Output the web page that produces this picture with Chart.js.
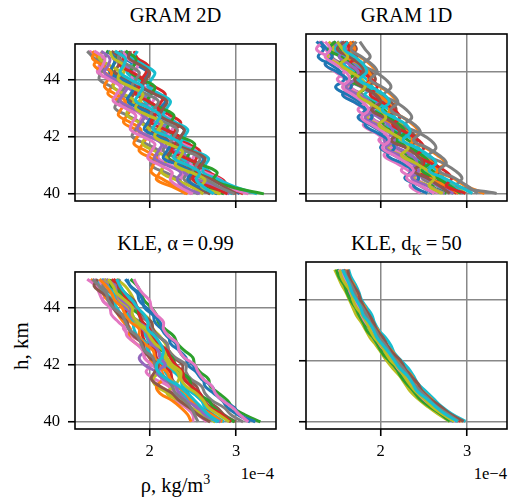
<!DOCTYPE html>
<html>
<head>
<meta charset="utf-8">
<script src="https://cdn.jsdelivr.net/npm/chart.js@4.4.1/dist/chart.umd.min.js"></script>
<style>
  body { margin: 0; width: 511px; height: 498px; background: #fff; position: relative; overflow: hidden; font-family: "Liberation Serif", "Times New Roman", serif; color: #000; }
  canvas { position: absolute; }
  .title { position: absolute; width: 201px; text-align: center; font-size: 20.5px; line-height: 20.5px; white-space: nowrap; }
  .sub { font-size: 14px; position: relative; top: 5px; }
  .offset { position: absolute; width: 201px; text-align: right; font-size: 16.6px; line-height: 16.6px; }
  #ylabel { position: absolute; left: 21px; top: 346px; font-size: 21px; line-height: 21px; white-space: nowrap; transform: translate(-50%, -50%) rotate(-90deg); }
  #xlabel { position: absolute; left: 75px; top: 475px; width: 201px; text-align: center; font-size: 20.5px; line-height: 20.5px; white-space: nowrap; }
  #xlabel sup { font-size: 14px; vertical-align: baseline; position: relative; top: -8px; }
</style>
</head>
<body>
<div class="title" style="left:75px; top:4.5px">GRAM 2D</div>
<div class="title" style="left:306px; top:4.5px">GRAM 1D</div>
<div class="title" style="left:75px; top:233px">KLE, α&thinsp;=&thinsp;0.99</div>
<div class="title" style="left:306px; top:233px">KLE, d<span class="sub">K</span>&thinsp;=&thinsp;50</div>
<div id="ylabel">h, km</div>
<div id="xlabel">ρ, kg/m<sup>3</sup></div>
<div class="offset" style="left:73px; top:466px">1e−4</div>
<div class="offset" style="left:306px; top:466px">1e−4</div>

<script>
//****DATA****//

var heights = [45, 44.75, 44.5, 44.25, 44, 43.75, 43.5, 43.25, 43, 42.75, 42.5, 42.25, 42, 41.75, 41.5, 41.25, 41, 40.75, 40.5, 40.25, 40];
var xTicks = [2, 3];
var yTicks = [40, 42, 44];

// density samples (x 1e-4 kg/m3), one row per realisation, from 45 km down to 40 km
var gram2d = [
  [1.30,1.44,1.42,1.40,1.54,1.68,1.65,1.62,1.77,1.91,1.88,1.86,2.01,2.15,2.13,2.10,2.24,2.38,2.36,2.34,2.48],
  [1.52,1.48,1.44,1.60,1.76,1.72,1.68,1.84,2.00,1.96,1.92,2.08,2.24,2.20,2.16,2.32,2.48,2.44,2.40,2.56,2.70],
  [1.58,1.62,1.74,1.70,1.68,1.80,1.94,1.90,1.86,2.00,2.14,2.12,2.08,2.22,2.38,2.34,2.30,2.46,2.62,2.60,2.80],
  [1.66,1.80,1.78,1.74,1.86,2.02,1.98,1.94,2.08,2.24,2.20,2.16,2.30,2.46,2.42,2.38,2.54,2.70,2.66,2.74,2.96],
  [1.76,1.72,1.86,1.98,1.94,1.90,2.06,2.18,2.12,2.10,2.26,2.40,2.36,2.32,2.48,2.62,2.58,2.56,2.74,2.92,3.04],
  [1.34,1.40,1.36,1.48,1.60,1.56,1.52,1.66,1.78,1.74,1.70,1.84,1.96,1.92,1.88,2.02,2.16,2.12,2.08,2.26,2.44],
  [1.50,1.62,1.58,1.56,1.70,1.84,1.80,1.76,1.92,2.06,2.02,1.98,2.14,2.30,2.26,2.22,2.38,2.54,2.50,2.66,2.86],
  [1.82,1.86,1.98,1.96,1.92,2.06,2.18,2.14,2.10,2.24,2.36,2.30,2.28,2.44,2.58,2.54,2.52,2.68,2.84,2.92,3.08],
  [1.62,1.58,1.70,1.82,1.78,1.74,1.88,2.00,1.96,1.92,2.08,2.22,2.18,2.14,2.30,2.46,2.42,2.40,2.56,2.76,2.92],
  [1.56,1.66,1.64,1.60,1.72,1.86,1.82,1.78,1.92,2.06,2.02,1.98,2.14,2.28,2.24,2.20,2.36,2.50,2.46,2.52,2.70],
  [1.70,1.74,1.86,1.82,1.80,1.94,2.08,2.04,2.00,2.16,2.30,2.26,2.22,2.38,2.54,2.50,2.48,2.64,2.82,2.90,3.14],
  [1.28,1.36,1.48,1.44,1.42,1.56,1.68,1.64,1.60,1.74,1.88,1.84,1.80,1.96,2.10,2.06,2.02,2.18,2.34,2.40,2.56],
  [1.46,1.42,1.54,1.66,1.62,1.58,1.70,1.82,1.76,1.74,1.88,2.00,1.96,1.92,2.06,2.20,2.16,2.14,2.30,2.48,2.62],
  [1.86,1.82,1.94,2.06,2.02,1.98,2.12,2.24,2.20,2.16,2.30,2.44,2.40,2.36,2.52,2.68,2.64,2.62,2.80,2.98,3.24],
  [1.52,1.60,1.58,1.54,1.68,1.82,1.78,1.74,1.88,2.02,1.98,1.94,2.10,2.24,2.20,2.16,2.34,2.48,2.44,2.56,2.78],
  [1.38,1.34,1.46,1.56,1.52,1.48,1.60,1.72,1.68,1.64,1.78,1.90,1.86,1.82,1.96,2.08,2.04,2.02,2.16,2.30,2.42],
  [1.72,1.84,1.82,1.78,1.92,2.06,2.02,1.98,2.14,2.28,2.24,2.20,2.36,2.52,2.48,2.44,2.62,2.78,2.74,2.94,3.32],
  [1.64,1.70,1.66,1.80,1.92,1.88,1.84,1.98,2.10,2.06,2.02,2.18,2.34,2.30,2.26,2.42,2.58,2.54,2.50,2.70,2.90],
  [1.44,1.54,1.52,1.48,1.60,1.74,1.70,1.66,1.80,1.94,1.90,1.86,2.00,2.14,2.10,2.06,2.20,2.36,2.32,2.40,2.58],
  [1.78,1.76,1.90,2.00,1.96,1.92,2.06,2.20,2.16,2.12,2.26,2.40,2.36,2.32,2.48,2.64,2.60,2.56,2.72,2.86,3.00],
  [1.36,1.48,1.46,1.42,1.54,1.66,1.62,1.58,1.72,1.84,1.80,1.78,1.92,2.06,2.02,1.98,2.12,2.26,2.24,2.34,2.50],
  [1.68,1.64,1.76,1.88,1.84,1.80,1.96,2.10,2.06,2.02,2.18,2.32,2.28,2.24,2.42,2.58,2.54,2.50,2.66,2.80,2.98],
  [1.54,1.58,1.70,1.66,1.64,1.78,1.92,1.88,1.84,1.98,2.14,2.10,2.06,2.22,2.38,2.34,2.30,2.48,2.64,2.60,2.82],
  [1.60,1.72,1.70,1.66,1.78,1.92,1.88,1.84,2.00,2.12,2.08,2.04,2.22,2.36,2.32,2.28,2.44,2.58,2.54,2.62,2.74]
];

var gram1d = [
  [1.28,1.36,1.42,1.36,1.48,1.60,1.66,1.58,1.70,1.82,1.88,1.80,1.94,2.06,2.12,2.04,2.18,2.32,2.40,2.34,2.46],
  [1.44,1.50,1.44,1.56,1.68,1.74,1.66,1.80,1.92,1.98,1.90,2.04,2.18,2.24,2.16,2.32,2.46,2.54,2.48,2.66,2.80],
  [1.62,1.54,1.66,1.78,1.84,1.76,1.90,2.02,2.08,1.98,2.14,2.26,2.32,2.24,2.40,2.54,2.60,2.54,2.72,2.86,2.98],
  [1.50,1.58,1.66,1.58,1.72,1.84,1.90,1.82,1.96,2.10,2.16,2.08,2.24,2.38,2.44,2.36,2.52,2.66,2.72,2.66,2.84],
  [1.26,1.34,1.28,1.42,1.54,1.58,1.48,1.62,1.76,1.82,1.74,1.88,2.02,2.08,2.00,2.16,2.30,2.36,2.28,2.46,2.60],
  [1.70,1.62,1.76,1.88,1.94,1.86,2.00,2.12,2.18,2.10,2.26,2.38,2.44,2.36,2.52,2.66,2.74,2.66,2.84,2.98,3.20],
  [1.46,1.54,1.60,1.52,1.66,1.78,1.84,1.74,1.90,2.04,2.10,2.02,2.18,2.32,2.38,2.28,2.46,2.60,2.68,2.60,2.76],
  [1.58,1.64,1.56,1.70,1.82,1.88,1.80,1.94,1.98,1.88,2.02,2.16,2.22,2.14,2.30,2.44,2.50,2.42,2.58,2.72,2.88],
  [1.52,1.44,1.58,1.70,1.76,1.64,1.78,1.92,1.98,1.86,1.98,2.10,2.14,2.04,2.20,2.36,2.42,2.34,2.52,2.66,2.84],
  [1.66,1.72,1.64,1.76,1.88,1.94,1.84,1.98,2.12,2.18,2.08,2.22,2.36,2.42,2.32,2.48,2.62,2.68,2.60,2.78,2.94],
  [1.34,1.26,1.40,1.52,1.58,1.50,1.64,1.76,1.82,1.74,1.88,2.00,2.06,1.98,2.12,2.26,2.32,2.24,2.40,2.54,2.66],
  [1.76,1.82,1.88,1.80,1.94,2.06,2.12,2.04,2.18,2.30,2.36,2.28,2.44,2.58,2.64,2.56,2.72,2.86,2.94,2.88,3.34],
  [1.40,1.46,1.38,1.52,1.64,1.70,1.60,1.74,1.86,1.92,1.84,1.98,2.12,2.18,2.08,2.24,2.38,2.46,2.38,2.56,2.70],
  [1.56,1.48,1.62,1.74,1.80,1.72,1.86,1.98,2.04,1.96,2.10,2.22,2.28,2.20,2.36,2.50,2.58,2.50,2.68,2.82,2.96],
  [1.30,1.38,1.44,1.36,1.50,1.62,1.66,1.56,1.70,1.84,1.90,1.82,1.96,2.10,2.16,2.08,2.24,2.38,2.44,2.38,2.54],
  [1.64,1.70,1.62,1.76,1.86,1.90,1.82,1.96,2.08,2.12,2.04,2.18,2.32,2.38,2.30,2.46,2.60,2.66,2.58,2.76,2.90],
  [1.48,1.40,1.54,1.66,1.72,1.64,1.80,1.94,2.00,1.92,2.08,2.22,2.28,2.18,2.34,2.48,2.56,2.48,2.66,2.80,2.92],
  [1.60,1.66,1.72,1.64,1.78,1.90,1.96,1.88,2.02,2.16,2.22,2.14,2.30,2.44,2.50,2.42,2.58,2.74,2.82,2.76,2.98],
  [1.54,1.60,1.52,1.64,1.74,1.70,1.60,1.74,1.88,1.92,1.82,1.96,2.10,2.16,2.06,2.22,2.36,2.44,2.36,2.54,2.74],
  [1.58,1.50,1.64,1.76,1.80,1.70,1.80,1.94,2.00,1.90,2.04,2.18,2.22,2.12,2.30,2.42,2.48,2.38,2.54,2.68,2.80],
  [1.36,1.42,1.36,1.48,1.60,1.64,1.56,1.68,1.80,1.86,1.78,1.90,2.04,2.10,2.02,2.16,2.30,2.38,2.30,2.46,2.62],
  [1.72,1.66,1.78,1.90,1.96,1.88,2.02,2.14,2.20,2.12,2.26,2.40,2.46,2.38,2.54,2.68,2.76,2.68,2.86,3.00,3.12],
  [1.50,1.56,1.62,1.54,1.66,1.78,1.82,1.74,1.86,2.00,2.06,1.98,2.12,2.26,2.32,2.24,2.40,2.54,2.62,2.56,2.72],
  [1.62,1.58,1.70,1.80,1.84,1.76,1.90,2.04,2.10,2.02,2.16,2.30,2.34,2.26,2.42,2.56,2.64,2.56,2.74,2.90,3.06]
];

var kleAlpha = [
  [1.36,1.46,1.50,1.46,1.56,1.68,1.72,1.70,1.80,1.92,1.96,1.94,2.02,1.96,2.06,2.22,2.26,2.30,2.42,2.50,2.50],
  [1.50,1.46,1.56,1.68,1.70,1.76,1.88,1.90,1.96,2.08,2.10,2.16,2.28,2.32,2.38,2.50,2.52,2.60,2.72,2.82,2.94],
  [1.62,1.72,1.78,1.82,1.84,1.94,2.02,2.04,2.12,2.18,2.22,2.28,2.22,2.12,2.04,2.08,2.22,2.36,2.48,2.62,2.76],
  [1.44,1.54,1.58,1.64,1.72,1.74,1.80,1.90,1.96,2.00,2.10,2.14,2.18,2.28,2.36,2.38,2.50,2.60,2.64,2.74,2.86],
  [1.72,1.78,1.86,1.88,1.96,2.04,2.06,2.14,2.22,2.24,2.34,2.42,2.44,2.54,2.62,2.64,2.74,2.84,2.90,3.02,3.16],
  [1.32,1.40,1.46,1.52,1.62,1.64,1.70,1.78,1.76,1.84,1.96,2.00,2.06,2.14,2.16,2.08,2.12,2.26,2.36,2.44,2.48],
  [1.78,1.86,1.90,1.94,2.02,2.08,2.10,2.18,2.28,2.32,2.40,2.50,2.52,2.58,2.68,2.70,2.80,2.90,2.96,3.10,3.28],
  [1.56,1.62,1.70,1.74,1.76,1.70,1.80,1.90,1.92,1.96,2.06,2.08,2.14,2.24,2.26,2.32,2.44,2.48,2.58,2.72,2.80],
  [1.46,1.56,1.62,1.64,1.72,1.80,1.84,1.92,2.00,2.02,1.96,1.88,1.94,2.08,2.18,2.24,2.36,2.46,2.54,2.68,2.82],
  [1.60,1.64,1.72,1.82,1.86,1.92,2.02,2.04,2.10,2.20,2.22,2.28,2.38,2.38,2.44,2.54,2.58,2.66,2.78,2.86,3.00],
  [1.28,1.38,1.42,1.46,1.54,1.56,1.64,1.72,1.74,1.84,1.92,1.94,2.02,2.12,2.14,2.22,2.32,2.34,2.44,2.56,2.66],
  [1.66,1.60,1.66,1.78,1.84,1.88,1.98,2.02,2.10,2.20,2.22,2.30,2.42,2.42,2.48,2.60,2.64,2.72,2.86,2.94,3.08],
  [1.48,1.58,1.62,1.66,1.76,1.80,1.82,1.94,2.00,2.04,2.16,2.18,2.22,2.32,2.34,2.28,2.20,2.34,2.46,2.62,2.76],
  [1.38,1.42,1.50,1.58,1.62,1.68,1.80,1.82,1.86,1.96,1.98,2.04,2.16,2.18,2.24,2.34,2.38,2.46,2.58,2.64,2.78],
  [1.74,1.78,1.88,1.92,1.94,2.04,2.12,2.14,2.20,2.30,2.34,2.40,2.50,2.54,2.60,2.72,2.76,2.84,2.98,3.04,3.22],
  [1.42,1.50,1.56,1.60,1.68,1.72,1.78,1.88,1.88,1.94,2.04,2.06,2.10,2.20,2.24,2.32,2.42,2.48,2.58,2.72,2.84],
  [1.54,1.56,1.68,1.74,1.78,1.88,1.90,1.96,2.06,2.08,2.14,2.26,2.30,2.36,2.46,2.48,2.54,2.68,2.74,2.84,2.98],
  [1.58,1.66,1.70,1.74,1.86,1.88,1.92,2.00,2.02,2.10,2.20,2.24,2.30,2.38,2.40,2.48,2.58,2.62,2.70,2.84,2.94],
  [1.50,1.60,1.62,1.68,1.78,1.78,1.86,1.98,1.98,2.02,2.10,2.12,2.18,2.08,2.16,2.30,2.34,2.42,2.56,2.64,2.82],
  [1.40,1.36,1.46,1.56,1.58,1.64,1.74,1.76,1.82,1.92,1.94,2.00,2.10,2.06,2.02,2.12,2.26,2.34,2.46,2.56,2.70],
  [1.82,1.86,1.92,2.00,2.02,2.08,2.16,2.16,2.22,2.32,2.34,2.40,2.52,2.56,2.62,2.72,2.76,2.84,2.96,3.04,3.14],
  [1.34,1.42,1.50,1.52,1.58,1.68,1.72,1.76,1.86,1.90,1.94,2.04,2.06,2.10,2.20,2.26,2.30,2.40,2.48,2.52,2.56],
  [1.52,1.58,1.62,1.72,1.80,1.80,1.86,1.96,2.00,2.06,2.16,2.20,2.26,2.36,2.36,2.42,2.54,2.62,2.68,2.80,2.92],
  [1.62,1.66,1.72,1.80,1.86,1.94,1.98,1.98,2.06,2.12,2.16,2.14,2.08,2.10,2.20,2.34,2.44,2.52,2.60,2.68,2.80]
];

var kleDk = [
  [1.47,1.51,1.55,1.60,1.64,1.68,1.72,1.78,1.83,1.88,1.95,2.01,2.07,2.14,2.22,2.28,2.34,2.43,2.54,2.66,2.80],
  [1.63,1.66,1.71,1.75,1.78,1.84,1.90,1.93,1.98,2.06,2.12,2.16,2.24,2.32,2.38,2.43,2.52,2.61,2.70,2.82,2.98],
  [1.50,1.56,1.59,1.62,1.68,1.73,1.76,1.82,1.88,1.92,1.98,2.06,2.12,2.18,2.26,2.33,2.38,2.48,2.58,2.70,2.84],
  [1.60,1.63,1.69,1.72,1.76,1.82,1.85,1.90,1.97,2.01,2.07,2.15,2.20,2.27,2.36,2.40,2.48,2.58,2.66,2.78,2.94],
  [1.49,1.52,1.58,1.61,1.65,1.71,1.75,1.80,1.84,1.92,1.97,2.02,2.10,2.18,2.23,2.30,2.38,2.45,2.56,2.69,2.80],
  [1.57,1.62,1.65,1.68,1.74,1.78,1.82,1.89,1.93,1.98,2.05,2.12,2.17,2.24,2.33,2.38,2.44,2.55,2.64,2.75,2.92],
  [1.55,1.58,1.63,1.68,1.70,1.75,1.82,1.86,1.90,1.97,2.04,2.08,2.15,2.24,2.30,2.35,2.44,2.52,2.61,2.75,2.88],
  [1.62,1.64,1.68,1.74,1.77,1.81,1.87,1.92,1.96,2.03,2.08,2.14,2.23,2.28,2.35,2.43,2.48,2.57,2.69,2.80,2.96],
  [1.52,1.57,1.62,1.65,1.69,1.75,1.78,1.83,1.90,1.95,2.00,2.08,2.14,2.20,2.28,2.35,2.41,2.49,2.60,2.72,2.86],
  [1.58,1.61,1.66,1.70,1.73,1.79,1.84,1.88,1.94,1.99,2.06,2.11,2.18,2.26,2.32,2.38,2.46,2.55,2.64,2.77,2.90],
  [1.53,1.55,1.60,1.66,1.68,1.72,1.79,1.84,1.88,1.93,2.01,2.06,2.12,2.21,2.27,2.33,2.40,2.50,2.59,2.71,2.85],
  [1.56,1.60,1.64,1.67,1.72,1.77,1.80,1.87,1.92,1.96,2.03,2.10,2.16,2.22,2.31,2.37,2.42,2.53,2.63,2.74,2.89]
];

var colors = ['#1f77b4', '#ff7f0e', '#2ca02c', '#d62728', '#9467bd', '#8c564b', '#e377c2', '#7f7f7f', '#bcbd22', '#17becf'];

//****PANELS****//

var panels = [
  { lines: gram2d, left: 75, top: 34, xLabels: false, yLabels: true },
  { lines: gram1d, left: 306, top: 34, xLabels: false, yLabels: false },
  { lines: kleAlpha, left: 75, top: 262, xLabels: true, yLabels: true },
  { lines: kleDk, left: 306, top: 262, xLabels: true, yLabels: false }
];

var areaW = 201;
var areaH = 167;
var padL = 60;
var padT = 8;
var padR = 8;
var padB = 40;

var boxPlugin = {
  id: 'box',
  afterDraw: function (chart) {
    var a = chart.chartArea;
    var ctx = chart.ctx;
    ctx.save();
    ctx.strokeStyle = '#000';
    ctx.lineWidth = 1.6;
    ctx.strokeRect(a.left, a.top, a.right - a.left, a.bottom - a.top);
    ctx.restore();
  }
};

// the last realisation gets the last colour of the cycle, as in a long run of lines
function makeDatasets(lines) {
  var shift = (colors.length - lines.length % colors.length) % colors.length;
  return lines.map(function (vals, i) {
    return {
      data: vals.map(function (v, j) { return { x: v, y: heights[j] }; }),
      showLine: true,
      borderColor: colors[(i + shift) % colors.length],
      borderWidth: 3,
      pointRadius: 0,
      pointHoverRadius: 0,
      tension: 0.4,
      fill: false,
      order: -i
    };
  });
}

function makePanel(panel) {
  var canvas = document.createElement('canvas');
  canvas.width = areaW + padL + padR;
  canvas.height = areaH + padT + padB;
  canvas.style.left = (panel.left - padL) + 'px';
  canvas.style.top = (panel.top - padT) + 'px';
  canvas.style.width = canvas.width + 'px';
  canvas.style.height = canvas.height + 'px';
  document.body.appendChild(canvas);

  var tickFont = { family: '"Liberation Serif", serif', size: 16.6 };
  var grid = { color: '#888888', lineWidth: 1.5, tickColor: '#000', tickWidth: 1.6, tickLength: 7, drawTicks: true };

  new Chart(canvas.getContext('2d'), {
    type: 'scatter',
    data: { datasets: makeDatasets(panel.lines) },
    options: {
      responsive: false,
      maintainAspectRatio: false,
      animation: false,
      events: [],
      layout: { padding: { top: padT, right: padR, left: 0, bottom: 0 } },
      plugins: { legend: { display: false }, tooltip: { enabled: false } },
      scales: {
        x: {
          type: 'linear',
          min: 1.1384,
          max: 3.4602,
          afterBuildTicks: function (axis) { axis.ticks = xTicks.map(function (v) { return { value: v }; }); },
          afterFit: function (axis) { axis.height = padB; },
          ticks: { display: panel.xLabels, font: tickFont, color: '#000', padding: 6, maxRotation: 0 },
          grid: grid,
          border: { display: false }
        },
        y: {
          type: 'linear',
          min: 39.75,
          max: 45.25,
          afterBuildTicks: function (axis) { axis.ticks = yTicks.map(function (v) { return { value: v }; }); },
          afterFit: function (axis) { axis.width = padL; },
          ticks: { display: panel.yLabels, font: tickFont, color: '#000', padding: 8 },
          grid: grid,
          border: { display: false }
        }
      }
    },
    plugins: [boxPlugin]
  });
}

Chart.defaults.font.family = '"Liberation Serif", serif';

document.fonts.load('16.6px "Liberation Serif"').then(function () {
  panels.forEach(makePanel);
});
</script>
</body>
</html>
